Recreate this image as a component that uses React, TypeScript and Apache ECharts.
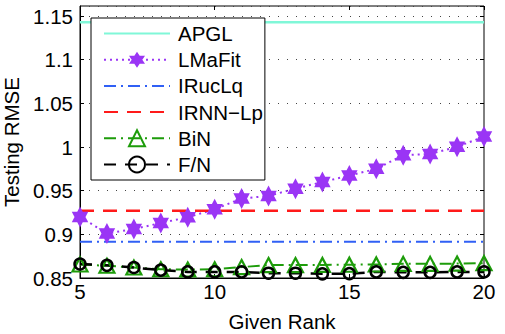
import React, { useEffect, useRef } from "react";
import * as echarts from "echarts";

const ranks = [5, 6, 7, 8, 9, 10, 11, 12, 13, 14, 15, 16, 17, 18, 19, 20];
const apgl = [1.1428, 1.1428, 1.1428, 1.1428, 1.1428, 1.1428, 1.1428, 1.1428, 1.1428, 1.1428, 1.1428, 1.1428, 1.1428, 1.1428, 1.1428, 1.1428];
const lmafit = [0.92, 0.901, 0.906, 0.913, 0.9195, 0.9287, 0.941, 0.944, 0.9523, 0.96, 0.9673, 0.975, 0.9906, 0.992, 1.0002, 1.012];
const irucLq = [0.8915, 0.8915, 0.8915, 0.8915, 0.8915, 0.8915, 0.8915, 0.8915, 0.8915, 0.8915, 0.8915, 0.8915, 0.8915, 0.8915, 0.8915, 0.8915];
const irnnLp = [0.927, 0.927, 0.927, 0.927, 0.927, 0.927, 0.927, 0.927, 0.927, 0.927, 0.927, 0.927, 0.927, 0.927, 0.927, 0.927];
const bin = [0.8655, 0.864, 0.862, 0.86, 0.8597, 0.86, 0.8625, 0.8648, 0.8648, 0.865, 0.8652, 0.8655, 0.8662, 0.8662, 0.8665, 0.867];
const fn = [0.866, 0.8645, 0.862, 0.859, 0.857, 0.857, 0.857, 0.8555, 0.8555, 0.8548, 0.855, 0.857, 0.8565, 0.8565, 0.857, 0.857];
const yTickLabels = ["0.85", "0.9", "0.95", "1", "1.05", "1.1", "1.15"];
const xTickLabels = ["5", "10", "15", "20"];

const FONT = "'Liberation Sans', Arial, Helvetica, sans-serif";
const FS = 20.5;
const HEXAGRAM = "path://M0,-10L8.66,5L-8.66,5Z M0,10L-8.66,-5L8.66,-5Z";

function pairs(vals: number[]) {
  return ranks.map((r, i) => [r, vals[i]]);
}

export default function App() {
  const ref = useRef<HTMLDivElement>(null);
  useEffect(() => {
    if (!ref.current) return;
    const chart = echarts.init(ref.current, null, { renderer: "svg" });
    const yFmt = (v: number) => {
      const i = Math.round((v - 0.85) / 0.05);
      return Math.abs(v - (0.85 + i * 0.05)) < 1e-6 ? yTickLabels[i] ?? "" : "";
    };
    const xFmt = (v: number) => {
      const i = Math.round((v - 5) / 5);
      return Math.abs(v - (5 + i * 5)) < 1e-6 ? xTickLabels[i] ?? "" : "";
    };
    const hide = { opacity: 0 };
    chart.setOption({
      animation: false,
      backgroundColor: "#ffffff",
      textStyle: { fontFamily: FONT, color: "#000" },
      grid: {
        left: 80,
        right: 21,
        top: 6,
        bottom: 56,
        containLabel: false,
        outerBoundsMode: "none",
        show: true,
        borderColor: "#000",
        borderWidth: 1,
        backgroundColor: "transparent",
      },
      legend: {
        left: 91,
        top: 18,
        orient: "vertical",
        backgroundColor: "#fff",
        borderColor: "#000",
        borderWidth: 1,
        borderRadius: 0,
        padding: [5, 2, 5, 12],
        itemWidth: 66,
        itemHeight: 20,
        itemGap: 5.2,
        textStyle: { fontFamily: FONT, fontSize: FS, color: "#000", padding: [0, 0, 0, 3] },
        data: [
          { name: "APGL", itemStyle: hide },
          { name: "LMaFit" },
          { name: "IRucLq", itemStyle: hide },
          { name: "IRNN\u2212Lp", itemStyle: hide },
          { name: "BiN" },
          { name: "F/N" },
        ],
      },
      xAxis: [
        {
          type: "value",
          min: 5,
          max: 20,
          interval: 5,
          name: "Given Rank",
          nameLocation: "middle",
          nameGap: 33,
          nameTextStyle: { fontFamily: FONT, fontSize: FS, color: "#000" },
          axisLine: { show: true, lineStyle: { color: "#000", width: 1 } },
          axisTick: { show: true, inside: true, length: 4, lineStyle: { color: "#000" } },
          axisLabel: { fontFamily: FONT, fontSize: FS, color: "#000", margin: 3, formatter: xFmt },
          splitLine: { show: false },
        },
        {
          type: "value",
          position: "top",
          min: 5,
          max: 20,
          interval: 5,
          axisLine: { show: false },
          axisTick: { show: true, inside: true, length: 4, lineStyle: { color: "#000" } },
          axisLabel: { show: false },
          splitLine: { show: false },
        },
      ],
      yAxis: [
        {
          type: "value",
          min: 0.85,
          max: 1.1615,
          interval: 0.05,
          name: "Testing RMSE",
          nameLocation: "middle",
          nameGap: 56,
          nameTextStyle: { fontFamily: FONT, fontSize: FS, color: "#000" },
          axisLine: { show: true, lineStyle: { color: "#000", width: 1 } },
          axisTick: { show: true, inside: true, length: 4, lineStyle: { color: "#000" } },
          axisLabel: { fontFamily: FONT, fontSize: FS, color: "#000", margin: 7, formatter: yFmt, showMaxLabel: false },
          splitLine: { show: true, lineStyle: { color: "#444", width: 1, type: [1, 8] } },
        },
        {
          type: "value",
          position: "right",
          min: 0.85,
          max: 1.1615,
          interval: 0.05,
          axisLine: { show: false },
          axisTick: { show: true, inside: true, length: 4, lineStyle: { color: "#000" } },
          axisLabel: { show: false },
          splitLine: { show: false },
        },
      ],
      series: [
        {
          name: "APGL",
          type: "line",
          data: pairs(apgl),
          symbol: "none",
          lineStyle: { color: "#80f7d8", width: 2.5, type: "solid" },
          itemStyle: { color: "#80f7d8" },
        },
        {
          name: "LMaFit",
          type: "line",
          data: pairs(lmafit),
          symbol: HEXAGRAM,
          symbolSize: [19, 21],
          symbolKeepAspect: true,
          lineStyle: { color: "#9a35f5", width: 2, type: [2, 4] },
          itemStyle: { color: "#9a35f5", borderWidth: 0 },
        },
        {
          name: "IRucLq",
          type: "line",
          data: pairs(irucLq),
          symbol: "none",
          lineStyle: { color: "#3060f5", width: 2, type: [12, 5, 2, 5] },
          itemStyle: { color: "#3060f5" },
        },
        {
          name: "IRNN\u2212Lp",
          type: "line",
          data: pairs(irnnLp),
          symbol: "none",
          lineStyle: { color: "#ff1a1a", width: 2.5, type: [14, 9] },
          itemStyle: { color: "#ff1a1a" },
        },
        {
          name: "BiN",
          type: "line",
          data: pairs(bin),
          symbol: "triangle",
          symbolSize: [15, 14],
          lineStyle: { color: "#1d9c0a", width: 2, type: [12, 5, 2, 5] },
          itemStyle: { color: "transparent", borderColor: "#1d9c0a", borderWidth: 2.2 },
        },
        {
          name: "F/N",
          type: "line",
          data: pairs(fn),
          symbol: "circle",
          symbolSize: 11,
          lineStyle: { color: "#000", width: 2.5, type: [12, 9] },
          itemStyle: { color: "transparent", borderColor: "#000", borderWidth: 2.5 },
        },
      ],
    });
    return () => chart.dispose();
  }, []);
  return (
    <div
      ref={ref}
      style={{ position: "fixed", left: 0, top: 0, width: 505, height: 334, background: "#fff" }}
    />
  );
}
